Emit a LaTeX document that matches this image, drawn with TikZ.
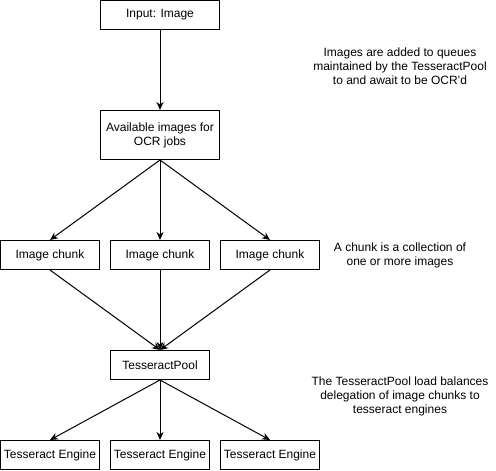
\documentclass[tikz,border=0pt]{standalone}
\usepackage{fontspec}
\setmainfont{Liberation Sans}
\usetikzlibrary{arrows.meta}

\begin{document}
\begin{tikzpicture}[x=1pt, y=-1pt, line width=1pt,
	every node/.style={font=\fontsize{12}{14}\selectfont},
	widebox/.style={draw, minimum width=119pt, minimum height=29pt, inner sep=0pt, align=center},
	smallbox/.style={draw, minimum width=99pt, minimum height=29pt, inner sep=0pt},
	note/.style={align=center, inner sep=0pt},
	flow/.style={-{Stealth[length=8pt,width=7pt,inset=2.5pt]}},]

    \useasboundingbox (0,0) rectangle (496,471);

    \node[widebox] (input) at (160,15) {Input: Image};
    \node[widebox, minimum height=49pt] (avail) at (160,135) {Available images for\\OCR jobs};

    \node[smallbox] (chunkA) at (50,255) {Image chunk};
    \node[smallbox] (chunkB) at (160,255) {Image chunk};
    \node[smallbox] (chunkC) at (270,255) {Image chunk};

    \node[smallbox] (pool) at (160,365) {TesseractPool};

    \node[smallbox] (engineA) at (50,455) {Tesseract Engine};
    \node[smallbox] (engineB) at (160,455) {Tesseract Engine};
    \node[smallbox] (engineC) at (270,455) {Tesseract Engine};

    \node[note] (noteQueue) at (400,66) {Images are added to queues\\maintained by the TesseractPool\\to and await to be OCR'd};
    \node[note] (noteChunk) at (400,255) {A chunk is a collection of\\one or more images};
    \node[note] (notePool) at (400,396) {The TesseractPool load balances\\delegation of image chunks to\\tesseract engines};

    \draw[flow] (input) -- (avail);
    \draw[flow] (avail.south) -- (chunkA.north);
    \draw[flow] (avail.south) -- (chunkB.north);
    \draw[flow] (avail.south) -- (chunkC.north);
    \draw[flow] (chunkA.south) -- (pool.north);
    \draw[flow] (chunkB.south) -- (pool.north);
    \draw[flow] (chunkC.south) -- (pool.north);
    \draw[flow] (pool.south) -- (engineA.north);
    \draw[flow] (pool.south) -- (engineB.north);
    \draw[flow] (pool.south) -- (engineC.north);
    \end{tikzpicture}
\end{document}
